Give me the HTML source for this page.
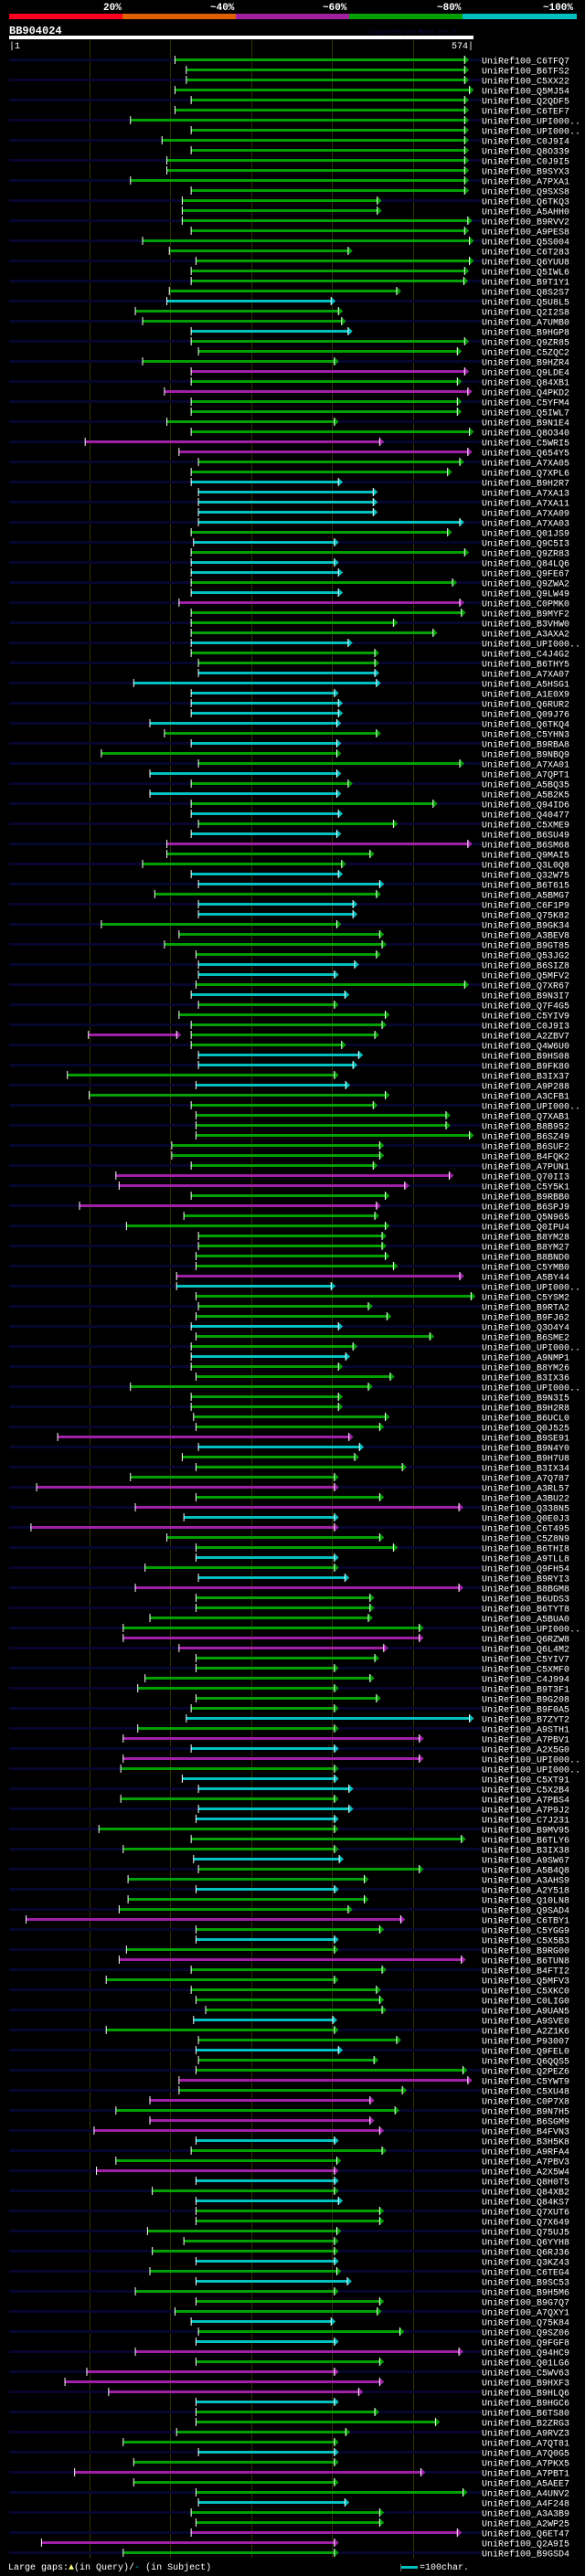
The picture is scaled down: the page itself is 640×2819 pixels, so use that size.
<!DOCTYPE html>
<html><head><meta charset="utf-8">
<style>
html,body{margin:0;padding:0;background:#000;}
body{width:640px;height:2819px;overflow:hidden;}
svg{display:block;}
text{font-family:"Liberation Mono",monospace;}
</style></head>
<body>
<svg id="chart" width="640" height="2819" viewBox="0 0 640 2819" xmlns="http://www.w3.org/2000/svg">
  <rect x="0" y="0" width="640" height="2819" fill="#000"/>
  <g font-weight="bold" font-size="11" fill="#fff">
    <text x="113" y="11">20%</text>
    <text x="230" y="11">~40%</text>
    <text x="353" y="11">~60%</text>
    <text x="478" y="11">~80%</text>
    <text x="594" y="11">~100%</text>
    <rect x="10" y="15" width="124" height="6" fill="#ff0020"/>
    <rect x="134" y="15" width="124" height="6" fill="#e06000"/>
    <rect x="258" y="15" width="124" height="6" fill="#a020a0"/>
    <rect x="382" y="15" width="124" height="6" fill="#00a000"/>
    <rect x="506" y="15" width="125" height="6" fill="#00c0c0"/>
  </g>
  <text x="10" y="37" font-size="12" font-weight="bold" fill="#fff">BB904024</text>
  <text x="403" y="37" font-size="7" fill="#0a0a40">AlignView.pm Beta rel.7</text>
  <rect x="10" y="39" width="508" height="4" fill="#fff"/>
  <text x="10" y="53" font-size="10" fill="#fff">|1</text>
  <text x="518" y="53" font-size="10" fill="#fff" text-anchor="end">574|</text>
  <g id="grid"></g>
  <g id="rows"></g>
  <g font-size="10" fill="#fff">
    <text x="9" y="2812">Large gaps:<tspan fill="#ffff80">▲</tspan>(in Query)/<tspan fill="#00c0c0">-</tspan> (in Subject)</text>
    <rect x="438" y="2806" width="1" height="8" fill="#666"/>
    <rect x="439" y="2808" width="18" height="3" fill="#00c0c0"/>
    <text x="459" y="2812">=100char.</text>
  </g>
</svg>
<script>
const labels = ["C6TFQ7","B6TFS2","C5XX22","Q5MJ54","Q2QDF5","C6TEF7","UPI000..","UPI000..","C0J9I4","Q8O339",
"C0J9I5","B9SYX3","A7PXA1","Q9SXS8","Q6TKQ3","A5AHH0","B9RVV2","A9PES8","Q5S004","C6T283",
"Q6YUU8","Q5IWL6","B9T1Y1","Q8S2S7","Q5U8L5","Q2I2S8","A7UMB0","B9HGP8","Q9ZR85","C5ZQC2",
"B9HZR4","Q9LDE4","Q84XB1","Q4PKD2","C5YFM4","Q5IWL7","B9N1E4","Q8O340","C5WRI5","Q654Y5",
"A7XA05","Q7XPL6","B9H2R7","A7XA13","A7XA11","A7XA09","A7XA03","Q01JS9","Q9C5I3","Q9ZR83",
"Q84LQ6","Q9FE67","Q9ZWA2","Q9LW49","C0PMK0","B9MYF2","B3VHW0","A3AXA2","UPI000..","C4J4G2",
"B6THY5","A7XA07","A5HSG1","A1E0X9","Q6RUR2","Q09J76","Q6TKQ4","C5YHN3","B9RBA8","B9NBQ9",
"A7XA01","A7QPT1","A5BQ35","A5B2K5","Q94ID6","Q40477","C5XME9","B6SU49","B6SM68","Q9MAI5",
"Q3L0Q8","Q32W75","B6T615","A5BMG7","C6F1P9","Q75K82","B9GK34","A3BEV8","B9GT85","Q53JG2",
"B6SIZ8","Q5MFV2","Q7XR67","B9N3I7","Q7F4G5","C5YIV9","C0J9I3","A2ZBV7","Q4W6U0","B9HS08",
"B9FK80","B3IX37","A9P288","A3CFB1","UPI000..","Q7XAB1","B8B952","B6SZ49","B6SUF2","B4FQK2",
"A7PUN1","Q70II3","C5Y5K1","B9RBB0","B6SPJ9","Q5N965","Q0IPU4","B8YM28","B8YM27","B8BND0",
"C5YMB0","A5BY44","UPI000..","C5YSM2","B9RTA2","B9FJ62","Q3O4Y4","B6SME2","UPI000..","A9NMP1",
"B8YM26","B3IX36","UPI000..","B9N3I5","B9H2R8","B6UCL0","Q0J525","B9SE91","B9N4Y0","B9H7U8",
"B3IX34","A7Q787","A3RL57","A3BU22","Q338N5","Q0E0J3","C6T495","C5Z8N9","B6THI8","A9TLL8",
"Q9FH54","B9RYI3","B8BGM8","B6UDS3","B6TYT8","A5BUA0","UPI000..","Q6RZW8","Q6L4M2","C5YIV7",
"C5XMF0","C4J994","B9T3F1","B9G208","B9F0A5","B7ZYT2","A9STH1","A7PBV1","A2X5G0","UPI000..",
"UPI000..","C5XT91","C5X2B4","A7PBS4","A7P9J2","C7J231","B9MV95","B6TLY6","B3IX38","A9SW67",
"A5B4Q8","A3AHS9","A2Y518","Q10LN8","Q9SAD4","C6TBY1","C5YGG9","C5X5B3","B9RG00","B6TUN8",
"B4FTI2","Q5MFV3","C5XKC0","C0LIG0","A9UAN5","A9SVE0","A2Z1K6","P93007","Q9FEL0","Q6QQS5",
"Q2PEZ6","C5YWT9","C5XU48","C0P7X8","B9N7H5","B6SGM9","B4FVN3","B3H5K8","A9RFA4","A7PBV3",
"A2X5W4","Q8H0T5","Q84XB2","Q84KS7","Q7XUT6","Q7X649","Q75UJ5","Q6YYH8","Q6RJ36","Q3KZ43",
"C6TEG4","B9SC53","B9H5M6","B9G7Q7","A7QXY1","Q75K84","Q9SZ06","Q9FGF8","Q94HC9","Q01LG6",
"C5WV63","B9HXF3","B9HLQ6","B9HGC6","B6TS80","B2ZRG3","A9RVZ3","A7QT81","A7Q0G5","A7PKX5",
"A7PBT1","A5AEE7","A4UNV2","A4F248","A3A3B9","A2WP25","Q6ET47","Q2A9I5","B9GSD4"];
const qStart = [206,220,220,206,226,206,151,226,190,226,
196,196,151,226,215,215,215,226,166,199,
232,226,226,199,196,157,166,226,226,235,
166,226,226,193,226,226,196,226,95,211,
235,226,226,235,235,235,235,226,229,226,
226,226,226,226,211,226,226,226,226,226,
235,235,155,226,226,226,175,193,226,115,
235,175,226,175,226,226,235,226,196,196,
166,226,235,181,235,235,115,211,193,232,
235,235,232,226,235,211,226,226,226,235,
235,73,232,100,226,232,232,232,202,202,
226,133,137,226,88,217,146,235,235,232,
232,208,208,232,235,232,226,232,226,226,
226,232,151,226,226,229,232,61,235,215,
232,151,35,232,157,217,28,196,232,232,
169,235,157,232,232,175,142,142,211,232,
232,169,160,232,226,220,160,142,226,142,
139,215,235,139,235,232,112,226,142,229,
235,148,232,148,137,22,232,232,146,137,
226,121,226,232,244,229,121,235,232,235,
232,211,211,175,133,175,106,232,226,133,
109,232,178,232,232,232,172,217,178,232,
175,232,157,232,206,226,235,232,157,232,
97,70,124,232,232,232,208,142,235,155,
82,155,232,235,226,232,226,41,142];
const qEnd = [564,564,564,570,564,564,564,564,564,564,
564,564,564,564,456,456,568,564,570,420,
570,564,563,480,399,408,412,420,564,555,
403,564,555,568,555,555,403,570,459,568,
558,543,408,451,451,451,558,543,403,564,
403,408,549,408,558,560,476,525,420,453,
453,453,455,403,408,408,406,455,406,406,
558,406,420,406,525,408,476,406,568,447,
412,408,459,455,426,426,406,459,462,455,
428,403,564,416,403,466,462,453,412,433,
426,403,417,466,451,541,541,570,459,459,
451,545,490,466,455,453,466,462,462,466,
476,558,399,572,445,468,408,521,426,417,
408,472,445,408,408,466,459,421,434,428,
487,403,403,459,557,403,403,459,476,403,
403,416,557,447,447,445,508,508,464,453,
403,447,403,455,403,570,403,508,403,508,
403,403,421,403,421,403,403,560,403,409,
508,440,403,440,420,485,459,403,403,560,
462,403,455,459,462,401,403,480,408,452,
562,568,487,447,478,447,459,403,462,406,
403,403,403,408,459,459,406,403,403,403,
406,419,403,459,456,399,484,403,557,459,
403,459,433,403,453,528,417,403,403,403,
510,403,562,416,459,459,555,403,403];
const identityClass = ("gggggggggg"+"gggggggggg"+"ggggcggcgg"+"gmgmggggmm"+"ggcccccgcg"+"ccgcmgggcg"+"gccccccgcg"+"gcgcgcgcmg"+"gccgccgggg"+"ccgcgggggc"+"cgcggggggg"+"gmmgmggggg"+"gmcgggcggc"+"gggggggmcg"+"ggmgmcmggc"+"gcmggggmmg"+"gggggcgmcm"+"gccgccgggc"+"ggcggmgcgm"+"gggggcggcg"+"gmgmgmmcgg"+"mcgcgggggc"+"gcgggcgcmg"+"mmmcggggcg"+"mggcggmmg").split("");
const extraLabel = ["A2ZBV7"];
const extraStart = [99];
const extraEnd = [208];
const gridTicks = [100,200,300,400,500];

const queryLen = 574;
const colorMap = {g:"#00a000", c:"#00c0c0", m:"#a020a8"};
function xAxis(r){ return 10 + (r-1)*508/queryLen; }
function rowTop(i){ return 64 + 11*i; }
const NS = "http://www.w3.org/2000/svg";
const grid = document.getElementById("grid");
const rowsG = document.getElementById("rows");
function mk(tag, attrs, parent){
  const el = document.createElementNS(NS, tag);
  for (const k in attrs) el.setAttribute(k, attrs[k]);
  parent.appendChild(el);
  return el;
}
gridTicks.forEach(function(t){
  const gx = Math.round(xAxis(t))+0.5;
  const l = mk("line", {x1:gx, x2:gx, y1:44, y2:2800, stroke:"#333300", "stroke-width":1}, grid);
  
  
});
function drawBar(parent, s, e, cls, top, name){
  const x1 = xAxis(s), x2 = xAxis(e), col = colorMap[cls];
  const bar = mk("rect", {x:x1, y:top, width:Math.max(1,x2-x1), height:3, fill:col}, parent);
  
  
  const tick = mk("rect", {x:x1-0.5, y:top-3, width:1, height:9, fill:"#fff"}, parent);
  
  
  const arr = mk("polygon", {points:(x2)+","+(top-3)+" "+(x2)+","+(top+6)+" "+(x2+5)+","+(top+1.5), fill:col}, parent);
  
  
  const edge = mk("rect", {x:x2-0.5, y:top-3, width:1, height:9, fill:"#fff"}, parent);
  
  
}
labels.forEach(function(lab, i){
  const top = rowTop(i);
  const g = mk("g", {}, rowsG);
  
  
  if (i % 2 === 0){
    const st = mk("rect", {x:10, y:top, width:517, height:3, fill:"#06062e"}, g);
    
    
  }
  drawBar(g, qStart[i], qEnd[i], identityClass[i], top, 'hit');
  const ei = extraLabel.indexOf(lab);
  if (ei >= 0) drawBar(g, extraStart[ei], extraEnd[ei], 'm', top, 'hit-extra');
  const t = mk("text", {x:527, y:top+5.5, "font-size":10, fill:"#fff"}, g);
  t.textContent = "UniRef100_" + lab;
  
  
});
</script>
</body></html>
